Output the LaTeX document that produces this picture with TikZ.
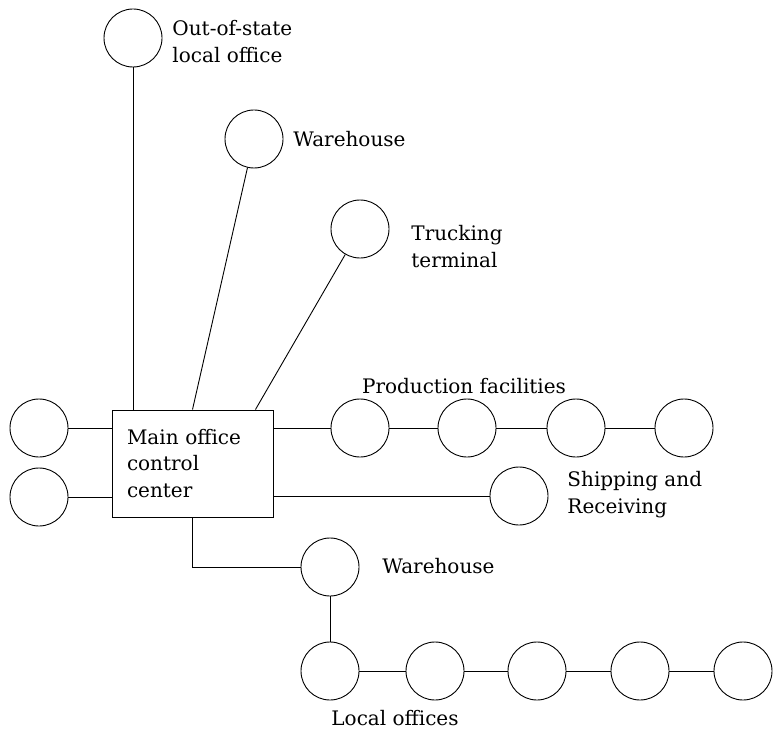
\documentclass[tikz,border=0pt]{standalone}
\usepackage{fontspec}
\setmainfont{DejaVu Serif}
\usetikzlibrary{positioning}

\begin{document}
\begin{tikzpicture}[x=1pt,y=-1pt,line width=0.9pt,
	site/.style={draw,circle,minimum size=58pt,inner sep=0pt},
	lbl/.style={font=\fontsize{20}{27}\selectfont,align=left,inner sep=0pt}]
	\useasboundingbox (0,0) rectangle (773,730);
	% control centre
	\node[draw,minimum width=161pt,minimum height=107pt,text width=131pt,align=left,inner sep=0pt,font=\fontsize{20}{26.5}\selectfont] (main) at (192.5,463.5) {Main office\\control\\center};
	\node[site] (oos) at (133,38) {};
	\node[site] (wtop) at (254,139) {};
	\node[site] (truck) at (360,229) {};
	\node[site] (left1) at (39,428) {};
	\node[site] (left2) at (39,497) {};
	\node[site] (prod1) at (360,428) {};
	\node[site] (prod2) at (467,428) {};
	\node[site] (prod3) at (576,428) {};
	\node[site] (prod4) at (684,428) {};
	\node[site] (ship) at (519,496) {};
	\node[site] (wlow) at (330,567) {};
	\node[site] (loc1) at (330,671) {};
	\node[site] (loc2) at (435,671) {};
	\node[site] (loc3) at (537,671) {};
	\node[site] (loc4) at (640,671) {};
	\node[site] (loc5) at (743,671) {};
	% links
	\coordinate (tin) at ([xshift=-18pt]main.north east);
	\draw (oos) -- (oos |- main.north);
	\draw (wtop) -- (main.north);
	\draw (truck) -- (tin);
	\draw (left1) -- (left1 -| main.west);
	\draw (left2) -- (left2 -| main.west);
	\draw (main.east |- prod1) -- (prod1) -- (prod2) -- (prod3) -- (prod4);
	\draw (main.east |- ship) -- (ship);
	\draw (main.south) |- (wlow);
	\draw (wlow) -- (loc1) -- (loc2) -- (loc3) -- (loc4) -- (loc5);
	% labels
	\node[lbl,anchor=west] (oostxt) at (172,42) {Out-of-state\\local office};
	\node[lbl,anchor=west] (wtoptxt) at (293,139) {Warehouse};
	\node[lbl,anchor=west] (trucktxt) at (411,247) {Trucking\\terminal};
	\node[lbl] (prodtxt) at (464,386) {Production facilities};
	\node[lbl,anchor=west] (shiptxt) at (567,495) {Shipping and\\Receiving};
	\node[lbl,anchor=west] (wlowtxt) at (382,566) {Warehouse};
	\node[lbl] (loctxt) at (395,718) {Local offices};
\end{tikzpicture}
\end{document}
